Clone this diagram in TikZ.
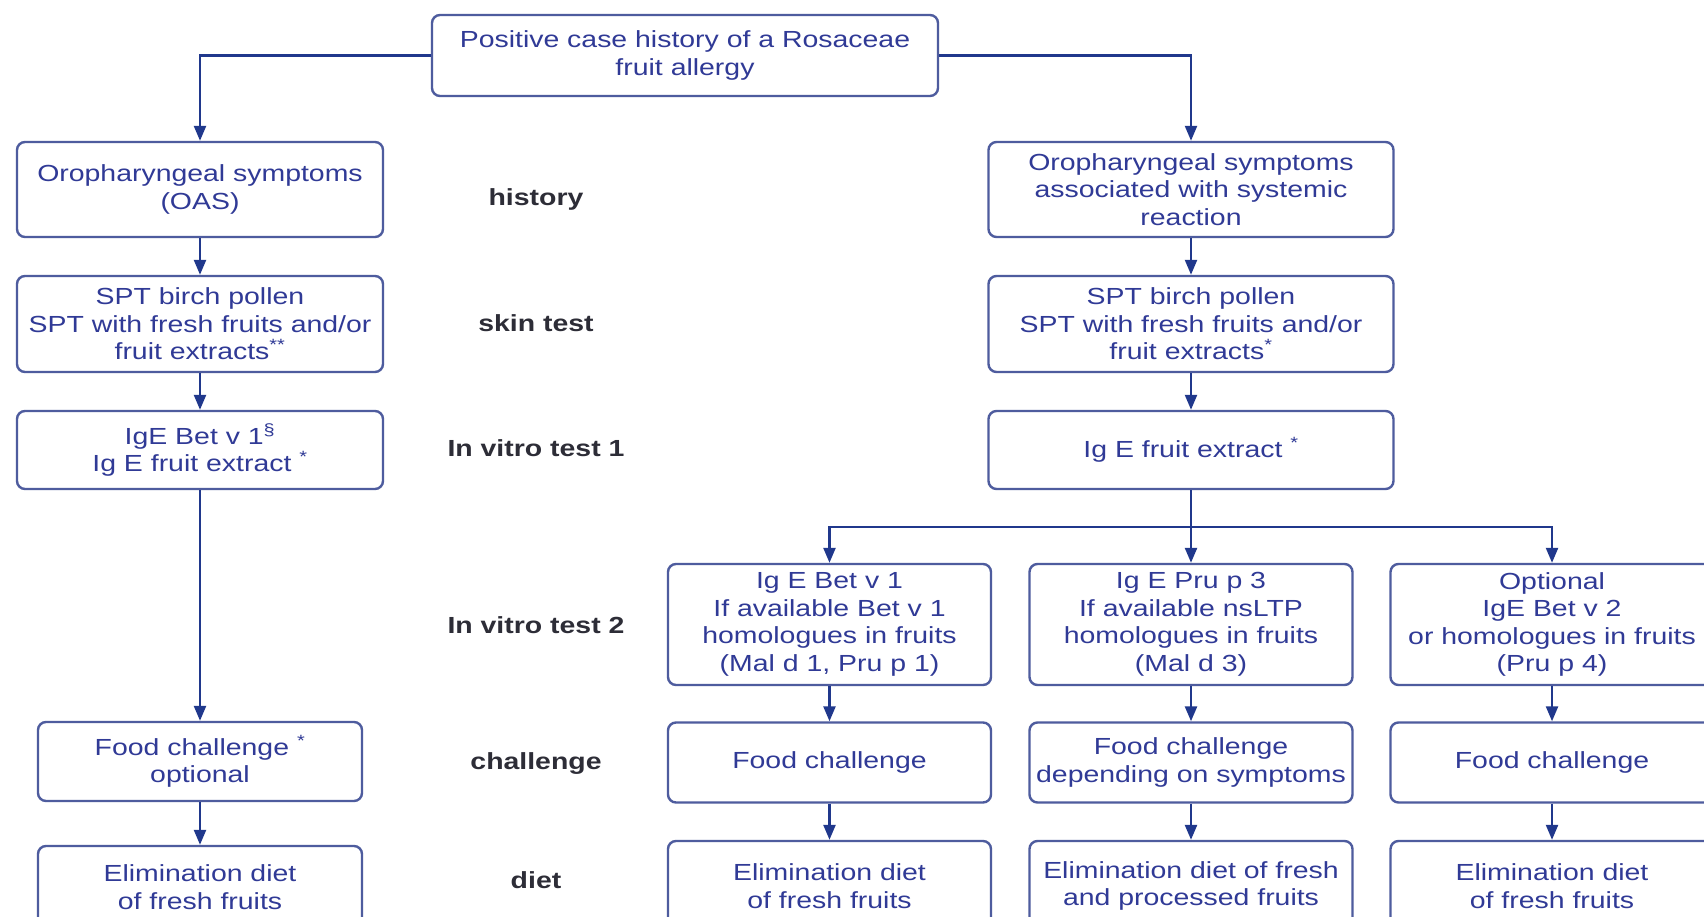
\documentclass[tikz,border=0pt]{standalone}
\usepackage{fontspec}
\setmainfont{Liberation Sans}[FakeStretch=1.22]
\usetikzlibrary{arrows.meta}

\definecolor{boxline}{RGB}{78,92,158}
\definecolor{boxtext}{RGB}{48,58,150}
\definecolor{arrowc}{RGB}{32,56,140}
\definecolor{labeltext}{RGB}{45,45,55}

\tikzset{
  stepbox/.style={draw=boxline, line width=2.4pt, rounded corners=8pt, fill=white,
    align=center, text=boxtext, inner sep=0pt,
    font=\fontsize{23.3}{27.5}\selectfont},
  rowlabel/.style={text=labeltext, font=\fontsize{23.3}{27.5}\selectfont\bfseries},
  flow/.style={draw=arrowc, line width=2.4pt, -{Triangle[length=15pt,width=12pt]}},
  plainflow/.style={draw=arrowc, line width=2.4pt},
}

\begin{document}
\begin{tikzpicture}[x=1pt,y=-1pt]
\useasboundingbox (0,0) rectangle (1704,917);
\clip (0,0) rectangle (1704,917);
\fill[white] (0,0) rectangle (1704,917);

% root
\node[stepbox, minimum width=506pt, minimum height=81pt] (root) at (685,55.5)
  {Positive case history of a Rosaceae\\fruit allergy};

% left branch (OAS)
\node[stepbox, minimum width=366pt, minimum height=95pt] (oasL) at (200,189.5)
  {Oropharyngeal symptoms\\(OAS)};
\node[stepbox, minimum width=366pt, minimum height=96pt] (sptL) at (200,324)
  {SPT birch pollen\\SPT with fresh fruits and/or\\fruit extracts\textsuperscript{**}};
\node[stepbox, minimum width=366pt, minimum height=78pt] (igeL) at (200,450)
  {IgE Bet v 1\textsuperscript{\S}\\Ig E fruit extract \textsuperscript{*}};
\node[stepbox, minimum width=324pt, minimum height=79pt] (chL) at (200,761.5)
  {Food challenge \textsuperscript{*}\\optional};
\node[stepbox, minimum width=324pt, minimum height=82pt] (dietL) at (200,887)
  {Elimination diet\\of fresh fruits};

% right branch (systemic)
\node[stepbox, minimum width=405pt, minimum height=95pt] (oasR) at (1191,189.5)
  {Oropharyngeal symptoms\\associated with systemic\\reaction};
\node[stepbox, minimum width=405pt, minimum height=96pt] (sptR) at (1191,324)
  {SPT birch pollen\\SPT with fresh fruits and/or\\fruit extracts\textsuperscript{*}};
\node[stepbox, minimum width=405pt, minimum height=78pt] (igeR) at (1191,450)
  {Ig E fruit extract \textsuperscript{*}};

% in vitro test 2 row
\node[stepbox, minimum width=323pt, minimum height=121pt] (ivA) at (829.5,624.5)
  {Ig E Bet v 1\\If available Bet v 1\\homologues in fruits\\(Mal d 1, Pru p 1)};
\node[stepbox, minimum width=323pt, minimum height=121pt] (ivB) at (1191,624.5)
  {Ig E Pru p 3\\If available nsLTP\\homologues in fruits\\(Mal d 3)};
\node[stepbox, minimum width=323pt, minimum height=121pt] (ivC) at (1552,624.5)
  {Optional\\IgE Bet v 2\\or homologues in fruits\\(Pru p 4)};

% challenge row
\node[stepbox, minimum width=323pt, minimum height=80pt] (chA) at (829.5,762.5)
  {Food challenge};
\node[stepbox, minimum width=323pt, minimum height=80pt] (chB) at (1191,762.5)
  {Food challenge\\depending on symptoms};
\node[stepbox, minimum width=323pt, minimum height=80pt] (chC) at (1552,762.5)
  {Food challenge};

% diet row
\node[stepbox, minimum width=323pt, minimum height=90pt] (dietA) at (829.5,886)
  {Elimination diet\\of fresh fruits};
\node[stepbox, minimum width=323pt, minimum height=90pt] (dietB) at (1191,886)
  {Elimination diet of fresh\\and processed fruits};
\node[stepbox, minimum width=323pt, minimum height=90pt] (dietC) at (1552,886)
  {Elimination diet\\of fresh fruits};

% stage labels
\node[rowlabel] (lHist) at (536,199) {history};
\node[rowlabel] (lSkin) at (536,323) {skin test};
\node[rowlabel] (lVit1) at (536,448) {In vitro test 1};
\node[rowlabel] (lVit2) at (536,625) {In vitro test 2};
\node[rowlabel] (lChal) at (536,764) {challenge};
\node[rowlabel] (lDiet) at (536,880) {diet};

% connectors
\draw[flow] (root.west) -| (oasL.north);
\draw[flow] (root.east) -| (oasR.north);
\draw[flow] (oasL) -- (sptL);
\draw[flow] (sptL) -- (igeL);
\draw[flow] (igeL) -- (chL);
\draw[flow] (chL) -- (dietL);
\draw[flow] (oasR) -- (sptR);
\draw[flow] (sptR) -- (igeR);
\coordinate (split) at (1191,527);
\draw[flow] (igeR) -- (ivB);
\draw[flow] (split) -| (ivA.north);
\draw[flow] (split) -| (ivC.north);
\draw[flow] (ivA) -- (chA);
\draw[flow] (ivB) -- (chB);
\draw[flow] (ivC) -- (chC);
\draw[flow] (chA) -- (dietA);
\draw[flow] (chB) -- (dietB);
\draw[flow] (chC) -- (dietC);
\end{tikzpicture}
\end{document}
